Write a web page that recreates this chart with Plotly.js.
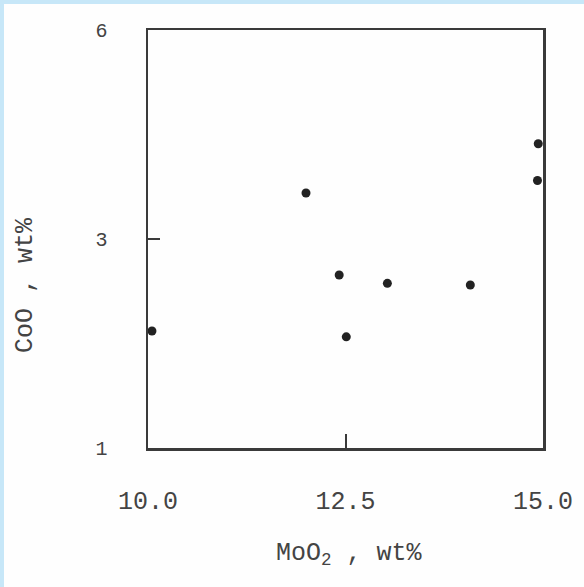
<!DOCTYPE html>
<html>
<head>
<meta charset="utf-8">
<script src="https://cdn.plot.ly/plotly-3.0.1.min.js"></script>
<style>
  html, body { margin: 0; padding: 0; background: #c7e7f8; width: 584px; height: 587px; overflow: hidden; }
  #chart { position: absolute; left: 4px; top: 4px; width: 580px; height: 583px; background: #fefefe; }
</style>
</head>
<body>
<div id="chart"></div>
<script>
// MoO2, wt%
const moo2 = [10.05, 12.0, 12.42, 12.51, 13.03, 14.08, 14.94, 14.93];
// CoO, wt% (positions on the drawn axis)
const coo = [2.40, 4.05, 3.07, 2.33, 2.97, 2.95, 4.64, 4.20];
const yTickVals = [1, 3.5, 6];
const yTickText = ['1', '3', '6'];
const xTickVals = [10, 12.5, 15];
const xTickText = ['10.0', '12.5', '15.0'];

const ink = '#3a3a3a';
const trace = {
  x: moo2, y: coo, type: 'scatter', mode: 'markers',
  marker: { size: 9, color: '#222' },
  cliponaxis: false, hoverinfo: 'skip'
};

const layout = {
  width: 580, height: 583,
  margin: { l: 144, r: 41, t: 26, b: 139 },
  paper_bgcolor: '#fefefe', plot_bgcolor: '#fefefe',
  showlegend: false,
  font: { family: 'Liberation Mono, DejaVu Sans Mono, monospace', color: '#444' },
  xaxis: {
    range: [10, 15], tickvals: xTickVals, ticktext: xTickText,
    ticks: 'inside', ticklen: 14, tickwidth: 2, tickcolor: ink,
    showline: true, linewidth: 2.5, linecolor: ink, mirror: true,
    showgrid: false, zeroline: false,
    tickfont: { size: 25, color: '#444' }, ticklabelstandoff: 28
  },
  yaxis: {
    range: [1, 6], tickvals: yTickVals, ticktext: yTickText,
    ticks: 'inside', ticklen: 12, tickwidth: 2, tickcolor: ink,
    showline: true, linewidth: 2.5, linecolor: ink, mirror: true,
    showgrid: false, zeroline: false,
    tickfont: { size: 20, color: '#444' }, ticklabelstandoff: 34
  },
  annotations: [
    { text: 'MoO<sub>2</sub> , wt%', xref: 'paper', yref: 'paper', x: 0.511, y: -0.254,
      xanchor: 'center', yanchor: 'middle', showarrow: false,
      font: { size: 25, color: '#444', family: 'Liberation Mono, monospace' } },
    { text: 'CoO , wt%', xref: 'paper', yref: 'paper', x: -0.309, y: 0.39,
      xanchor: 'center', yanchor: 'middle', showarrow: false, textangle: -90,
      font: { size: 25, color: '#444', family: 'Liberation Mono, monospace' } }
  ]
};

Plotly.newPlot('chart', [trace], layout, { displayModeBar: false, staticPlot: true });
</script>
</body>
</html>
